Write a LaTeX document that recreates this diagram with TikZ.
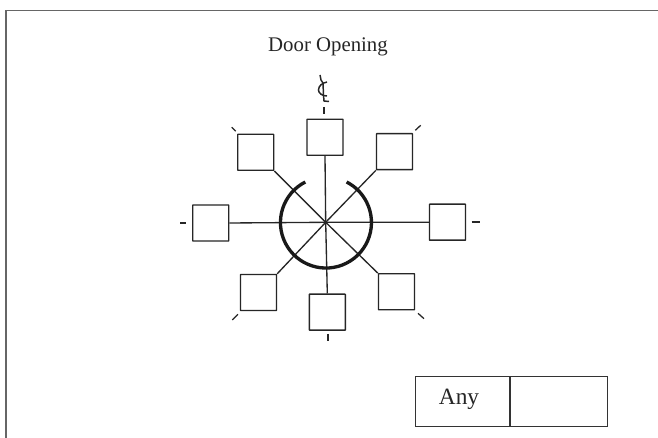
\documentclass[tikz,border=0pt]{standalone}
\usepackage{fontspec}
\setmainfont{Liberation Serif}
\tikzset{
  px/.style={x=0.75pt,y=-0.75pt},
  seat/.style={draw=black!85,line width=1.05pt,fill=white,minimum size=27pt,inner sep=0pt,rounded corners=0.3pt},
  spoke/.style={draw=black!85,line width=1pt},
  tick/.style={draw=black!85,line width=0.95pt},
  frame/.style={draw=black!60,line width=1.4pt},
  arcline/.style={draw=black!90,line width=2.5pt},
  cell/.style={draw=black!80,line width=0.75pt,minimum height=37.5pt,inner sep=0pt,anchor=north west},
  lbl/.style={font=\fontsize{15.6pt}{18pt}\selectfont,text=black!85,inner sep=0pt},
  keylbl/.style={font=\fontsize{17.5pt}{20pt}\selectfont,text=black!85,inner sep=0pt,anchor=base}
}
\begin{document}
\begin{tikzpicture}[px]
\useasboundingbox (0,0) rectangle (658,438);
\fill[white] (0,0) rectangle (658,438);
\coordinate (F1) at (6,438); \coordinate (F2) at (6,10.5); \coordinate (F3) at (658,10.5);
\draw[frame] (F1) -- (F2) -- (F3);
\node[lbl] (title) at (328,47) {Door Opening};
\coordinate (O) at (325.7,222.3);
\node[seat] (n) at (325,137.3) {};
\node[seat] (ne) at (394.5,151.7) {};
\node[seat] (e) at (447.5,222.2) {};
\node[seat] (se) at (396.5,291.8) {};
\node[seat] (s) at (327.3,312.2) {};
\node[seat] (sw) at (258.5,292.5) {};
\node[seat] (w) at (210.7,223) {};
\node[seat] (nw) at (255.7,152.3) {};
\foreach \a/\b in {n/south,ne/south west,e/west,se/north west,s/north,sw/north east,w/east,nw/south east}
  \draw[spoke] (O) -- (\a.\b);
\draw[arcline] (305.3,182) arc[start angle=-117,end angle=-423,radius=45.5];
% ticks
\draw[tick] (180,223) -- (186,223);
\draw[tick] (471.7,222) -- (480,222);
\draw[tick] (328,334) -- (328,341);
\draw[tick] (238,314.3) -- (232.3,320);
\draw[tick] (418,313.3) -- (424,318.7);
\draw[tick] (235.7,131.3) -- (231.7,127.3);
\draw[tick] (415.3,130.3) -- (420.7,125.3);
\draw[tick] (324,107) -- (324,114);
% centre-line mark
\draw[tick,line width=1.1pt] (320,75) -- (321,80) -- (323,83) -- (323.5,95) -- (324,101) -- (329,101.5);
\draw[tick,line width=1.1pt] (327,82) .. controls (322,83) and (318.5,86) .. (318.5,90) .. controls (318.5,93) and (322,96) .. (327,96);
% key
\node[cell,minimum width=70.9pt] (k1) at (414.5,376) {};
\node[cell,minimum width=72.75pt] (k2) at (k1.north east) {};
\node[keylbl] (any) at (459,404.5) {Any};
\end{tikzpicture}
\end{document}
